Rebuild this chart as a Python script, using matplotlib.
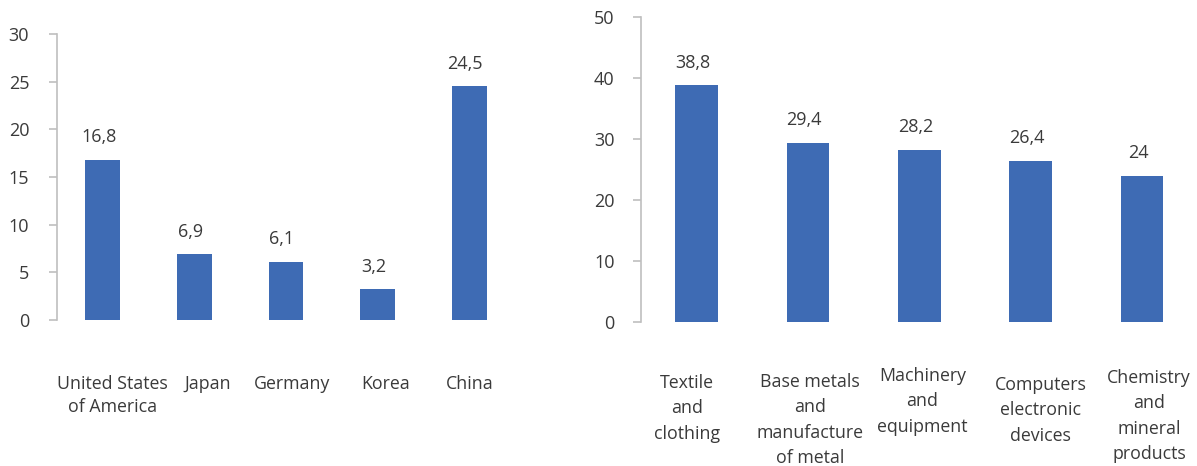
import matplotlib
matplotlib.use("Agg")
import matplotlib.pyplot as plt
from matplotlib.transforms import blended_transform_factory

# Left panel: countries
countries = ["United States\nof America", "Japan", "Germany", "Korea", "China"]
country_values = [16.8, 6.9, 6.1, 3.2, 24.5]
country_labels = ["16,8", "6,9", "6,1", "3,2", "24,5"]

# Right panel: industries
industries = ["Textile\nand\nclothing", "Base metals\nand\nmanufacture\nof metal",
              "Machinery\nand\nequipment", "Computers\nelectronic\ndevices",
              "Chemistry\nand\nmineral\nproducts"]
industry_values = [38.8, 29.4, 28.2, 26.4, 24.0]
industry_labels = ["38,8", "29,4", "28,2", "26,4", "24"]

BAR = "#3e6bb4"
TXT = "#3a3a3a"
SPINE = "#bfbfbf"
PX = 0.72  # points per pixel at 100 dpi

plt.rcParams["font.family"] = ["Open Sans", "DejaVu Sans"]

fig = plt.figure(figsize=(11.97, 4.66), dpi=100)
ax1 = fig.add_axes([0.0476, 0.3133, 0.3826, 0.614])
ax2 = fig.add_axes([0.5355, 0.309, 0.4650, 0.6545])


def style(ax, ymax, step, pad):
    for s in ("top", "right", "bottom"):
        ax.spines[s].set_visible(False)
    ax.spines["left"].set_color(SPINE)
    ax.spines["left"].set_linewidth(1.2)
    ax.set_ylim(0, ymax)
    ax.set_yticks(range(0, ymax + 1, step))
    ax.tick_params(axis="y", colors=SPINE, labelcolor=TXT, length=6, width=1.2,
                   pad=pad, labelsize=13)
    ax.set_xticks([])


def draw(ax, names, values, labels, width, name_dx, name_dy, spacing):
    x = range(len(values))
    ax.bar(x, values, width=width, color=BAR)
    ax.set_xlim(-0.5, len(values) - 0.5)
    trans = blended_transform_factory(ax.transData, ax.transAxes)
    for xi, v, lab, nm, dx, dy in zip(x, values, labels, names, name_dx, name_dy):
        ax.annotate(lab, (xi, v), xytext=(-4 * PX, 17.5 * PX),
                    textcoords="offset points", ha="center", va="baseline",
                    color=TXT, fontsize=13)
        ax.annotate(nm, (xi, 0), xycoords=trans,
                    xytext=(dx * PX, -dy * PX), textcoords="offset points",
                    ha="center", va="top", multialignment="center",
                    linespacing=spacing, color=TXT, fontsize=12.8,
                    annotation_clip=False)


draw(ax1, countries, country_values, country_labels, 0.38,
     [10, 13, 6, 8, 0.5], [55, 55, 55, 55, 55], 1.36)
style(ax1, 30, 5, 14)
draw(ax2, industries, industry_values, industry_labels, 0.385,
     [-10, 2, 3, 10, 7], [52, 51, 45, 54, 47], 1.52)
style(ax2, 50, 10, 13)

fig.savefig("out.png", dpi=100)
